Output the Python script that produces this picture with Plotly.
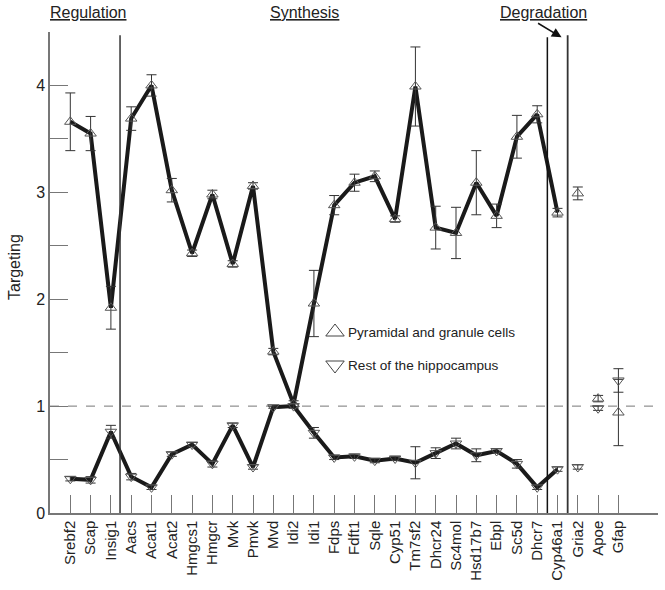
import plotly.graph_objects as go

genes = ["Srebf2", "Scap", "Insig1", "Aacs", "Acat1", "Acat2", "Hmgcs1", "Hmgcr",
         "Mvk", "Pmvk", "Mvd", "Idi2", "Idi1", "Fdps", "Fdft1", "Sqle", "Cyp51",
         "Tm7sf2", "Dhcr24", "Sc4mol", "Hsd17b7", "Ebpl", "Sc5d", "Dhcr7", "Cyp46a1",
         "Gria2", "Apoe", "Gfap"]
pyramidal = [3.66, 3.55, 1.92, 3.69, 4.00, 3.02, 2.43, 2.98, 2.33, 3.06, 1.51, 1.02,
             1.96, 2.88, 3.09, 3.15, 2.75, 3.99, 2.67, 2.62, 3.09, 2.78, 3.52, 3.73,
             2.81, 2.99, 1.07, 0.94]
pyramidal_err = [0.27, 0.16, 0.20, 0.11, 0.10, 0.11, 0.03, 0.04, 0.03, 0.03, 0.03, 0.03,
                 0.31, 0.09, 0.08, 0.05, 0.03, 0.37, 0.20, 0.24, 0.30, 0.11, 0.20, 0.08,
                 0.04, 0.06, 0.03, 0.31]
rest = [0.32, 0.31, 0.76, 0.34, 0.24, 0.55, 0.64, 0.46, 0.82, 0.43, 0.99, 1.00,
        0.75, 0.52, 0.53, 0.49, 0.51, 0.47, 0.56, 0.65, 0.54, 0.58, 0.46, 0.24,
        0.41, 0.43, 0.98, 1.24]
rest_err = [0.02, 0.03, 0.06, 0.03, 0.02, 0.02, 0.02, 0.03, 0.02, 0.02, 0.01, 0.02,
            0.05, 0.02, 0.02, 0.02, 0.02, 0.15, 0.05, 0.05, 0.06, 0.02, 0.04, 0.02,
            0.02, 0.02, 0.02, 0.11]
headers = ["Regulation", "Synthesis", "Degradation"]
legend_labels = ["Pyramidal and granule cells", "Rest of the hippocampus"]
n_connected = 25  # Srebf2 .. Cyp46a1 joined by lines

FONT = "Liberation Sans, Arial, sans-serif"
ML, MR, MT, MB = 50, 7, 32, 77
PW, PH = 665 - ML - MR, 590 - MT - MB

def px_x(p):  # screen pixel -> paper x
    return (p - ML) / PW

def px_y(p):  # screen pixel -> paper y
    return 1 - (p - MT) / PH

xs = list(range(len(genes)))
fig = go.Figure()

def add_series(vals, errs, symbol):
    fig.add_trace(go.Scatter(
        x=xs[:n_connected], y=vals[:n_connected],
        mode="lines", line=dict(color="#1a1a1a", width=4),
        showlegend=False, hoverinfo="skip"))
    fig.add_trace(go.Scatter(
        x=xs, y=vals, mode="markers",
        marker=dict(symbol=symbol, size=10, color="#555555", line=dict(width=1)),
        error_y=dict(type="data", array=errs, color="#333333", thickness=1, width=5),
        showlegend=False))

add_series(pyramidal, pyramidal_err, "triangle-up-open")
add_series(rest, rest_err, "triangle-down-open")

# legend (manual)
leg_px_x, leg_px_y = [335, 335], [332, 365]
fig.add_trace(go.Scatter(
    x=[px_x(p) for p in leg_px_x], y=[px_y(p) for p in leg_px_y],
    xaxis="x2", yaxis="y2", mode="markers",
    marker=dict(symbol=["triangle-up-open", "triangle-down-open"], size=16,
                color="#444444", line=dict(width=1)),
    showlegend=False, hoverinfo="skip"))
for lab, py in zip(legend_labels, leg_px_y):
    fig.add_annotation(x=px_x(346), xref="paper", y=px_y(py), yref="paper",
                       text=lab, showarrow=False, xanchor="left", yanchor="middle",
                       font=dict(size=13.6, color="#222"))

# reference lines
fig.add_shape(type="line", xref="paper", x0=0, x1=1, yref="y", y0=1, y1=1,
              line=dict(color="#777777", width=1, dash="dash"), layer="below")
fig.add_shape(type="line", x0=2.45, x1=2.45, y0=0, y1=4.47,
              line=dict(color="#333333", width=1.5))
fig.add_shape(type="line", x0=23.5, x1=23.5, y0=0, y1=4.45,
              line=dict(color="#111111", width=1.5))
fig.add_shape(type="line", x0=24.5, x1=24.5, y0=0, y1=4.47,
              line=dict(color="#333333", width=1.8))

# headers
for txt, xpix in zip(headers, [88, 304, 543]):
    fig.add_annotation(x=px_x(xpix), xref="paper", y=px_y(12), yref="paper",
                       xanchor="center", yanchor="middle",
                       text=f"<u>{txt}</u>", showarrow=False,
                       font=dict(size=16, color="#222"))

# y-axis title
fig.add_annotation(x=px_x(14), xref="paper", y=px_y(267), yref="paper",
                   text="Targeting", textangle=-90, showarrow=False,
                   xanchor="center", yanchor="middle", font=dict(size=16, color="#222"))

# arrow to the degradation gene
fig.add_annotation(x=24.2, y=4.45, ax=-25, ay=-15, text="", showarrow=True,
                   arrowhead=2, arrowsize=1.3, arrowwidth=1.5, arrowcolor="#111")

fig.update_layout(
    width=665, height=590,
    margin=dict(l=ML, r=MR, t=MT, b=MB),
    paper_bgcolor="white", plot_bgcolor="white",
    font=dict(family=FONT, size=15, color="#222"),
    showlegend=False,
    xaxis=dict(range=[-1, 28.95], tickvals=xs, ticktext=genes, tickangle=-90,
               ticks="inside", ticklen=18, tickcolor="#777", tickwidth=1,
               showline=True, linecolor="#777", linewidth=1.5, automargin=False,
               showgrid=False, zeroline=False, tickfont=dict(size=15)),
    yaxis=dict(range=[0, 4.5], dtick=1, tick0=0, ticks="inside", ticklen=18,
               tickcolor="#777", tickwidth=1, automargin=False,
               minor=dict(dtick=0.5, ticks="inside", ticklen=18, tickcolor="#777"),
               showline=True, linecolor="#777", linewidth=1.5,
               showgrid=False, zeroline=False, tickfont=dict(size=16)),
    xaxis2=dict(range=[0, 1], overlaying="x", visible=False, fixedrange=True),
    yaxis2=dict(range=[0, 1], overlaying="y", visible=False, fixedrange=True),
)

fig.write_html("out.html", config={"displayModeBar": False},
               post_script="document.body.style.margin='0px';document.body.style.overflow='hidden';")
